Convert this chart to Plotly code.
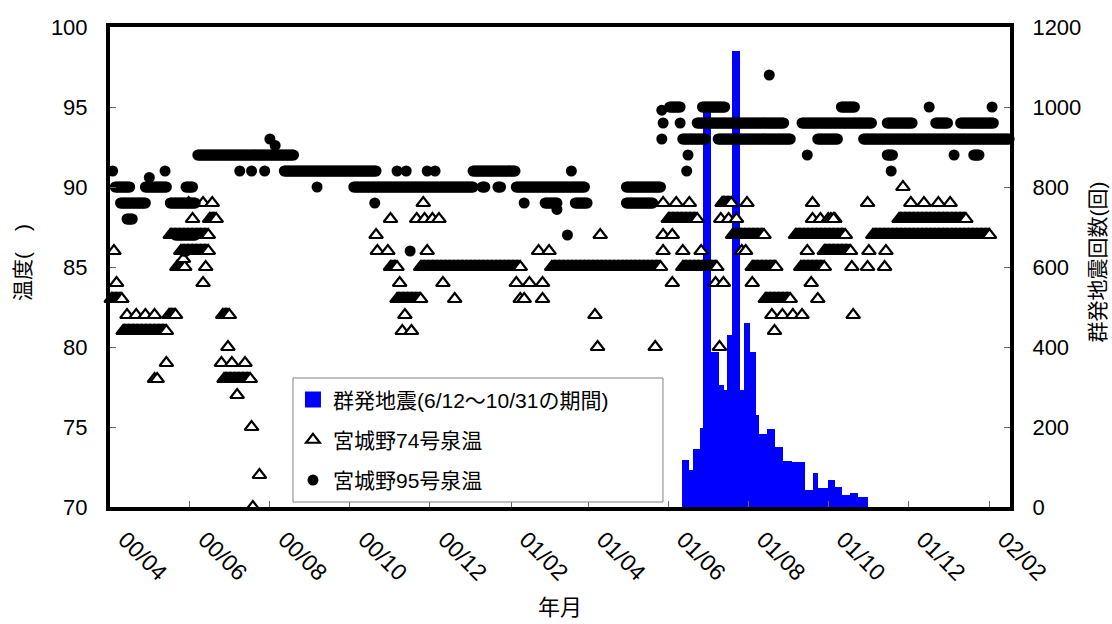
import pandas as pd
import plotly.graph_objects as go

# ---------------- data ----------------
# 宮城野95号泉温 : runs of constant daily value (start, end, value) + isolated readings
t95_run_start = ["2000-04-05","2000-04-28","2000-05-29","2000-04-09","2000-05-17","2000-04-14","2000-05-21","2000-05-27",
                 "2000-06-07","2000-08-12","2000-10-04","2001-01-03","2001-01-10","2001-01-22","2001-02-05","2001-04-30",
                 "2001-02-27","2001-03-22","2001-04-30","2001-06-02","2001-06-27","2001-06-23","2001-09-11","2001-11-15",
                 "2001-12-22","2002-01-10","2001-06-12","2001-07-09","2001-09-23","2001-10-28","2001-11-15","2002-01-20",
                 "2001-10-11"]
t95_run_end   = ["2000-04-16","2000-05-14","2000-06-03","2000-04-28","2000-06-05","2000-04-18","2000-06-05","2000-05-29",
                 "2000-08-19","2000-10-21","2001-01-03","2001-02-04","2001-01-12","2001-01-24","2001-03-29","2001-05-26",
                 "2001-03-08","2001-03-31","2001-05-20","2001-06-10","2001-07-14","2001-08-28","2001-11-03","2001-12-04",
                 "2001-12-31","2002-02-04","2001-06-29","2001-09-02","2001-10-08","2002-02-16","2001-11-19","2002-01-24",
                 "2001-10-21"]
t95_run_val   = [90, 90, 90, 89, 89, 88, 87, 86,
                 92, 91, 90, 91, 90, 90, 90, 90,
                 89, 89, 89, 95, 95, 94, 94, 94,
                 94, 94, 93, 93, 93, 93, 92, 92,
                 95]
t95_pt_date = ["2000-04-03","2000-05-01","2000-05-13","2000-07-09","2000-07-18","2000-07-28","2000-08-01","2000-08-05",
               "2000-11-06","2000-11-13","2000-11-29","2000-12-05","2000-09-06","2000-10-20","2000-11-16","2001-02-11",
               "2001-03-08","2001-03-16","2001-03-19","2001-05-27","2001-05-28","2001-06-10","2001-05-27","2001-06-16",
               "2001-06-15","2001-09-15","2001-11-18","2002-01-05","2001-08-17","2001-12-17","2002-02-03"]
t95_pt_val  = [91, 90.6, 91, 91, 91, 91, 93, 92.6,
               91, 91, 91, 91, 90, 89, 86, 89,
               88.6, 87, 91, 94.8, 94, 94, 93, 92,
               91, 92, 91, 92, 97, 95, 95]

# 宮城野74号泉温
t74_run_start = ["2000-04-02","2000-05-16","2000-06-26","2000-04-11","2000-06-27","2000-06-16","2000-05-17","2000-05-25",
                 "2000-05-22","2000-11-01","2000-11-24","2000-11-06","2001-03-04","2001-07-12","2001-06-01","2001-07-20",
                 "2001-09-06","2001-09-28","2001-06-12","2001-08-04","2001-09-10","2001-08-14","2001-11-24","2001-11-04"]
t74_run_end   = ["2000-04-10","2000-05-21","2000-07-01","2000-05-14","2000-07-17","2000-06-21","2000-06-15","2000-06-15",
                 "2000-05-28","2000-11-06","2001-02-08","2000-11-24","2001-05-26","2001-07-19","2001-06-23","2001-08-13",
                 "2001-10-14","2001-10-18","2001-07-08","2001-08-22","2001-09-28","2001-09-02","2002-01-14","2002-02-01"]
t74_run_val   = [83, 82, 82, 81, 78, 88, 87, 86,
                 85, 85, 85, 83, 85, 89, 88, 87,
                 87, 86, 85, 85, 85, 83, 88, 87]
t74_pt_date = ["2000-04-04","2000-04-06","2000-04-14","2000-04-21","2000-04-28","2000-05-05","2000-05-14","2000-06-25",
               "2000-07-03","2000-07-13","2000-05-05","2000-05-07","2000-06-30","2000-07-07","2000-07-18","2000-07-24",
               "2000-07-19","2000-05-31","2000-06-11","2000-06-18","2000-06-03","2000-05-27","2000-06-13","2000-06-11",
               "2000-11-26","2000-11-01","2000-11-21","2000-11-27","2000-12-03","2000-12-08","2000-10-21","2000-10-22",
               "2000-10-30","2000-11-29","2000-11-08","2000-12-11","2000-12-20","2000-11-12","2000-11-10","2000-11-17",
               "2001-02-22","2001-03-02","2001-02-05","2001-02-15","2001-02-25","2001-02-08","2001-02-11","2001-02-25",
               "2001-04-10","2001-04-06","2001-04-08","2001-05-22","2001-05-28","2001-06-07","2001-06-17","2001-07-31",
               "2001-09-19","2001-07-11","2001-07-17","2001-07-23","2001-09-19","2001-09-25","2001-10-01","2001-10-06",
               "2001-05-28","2001-06-04","2001-05-28","2001-06-12","2001-06-26","2001-07-27","2001-07-30","2001-09-15",
               "2001-10-19","2001-10-31","2001-11-13","2001-06-04","2001-07-07","2001-07-13","2001-08-04","2001-09-18",
               "2001-09-23","2001-08-19","2001-08-27","2001-09-04","2001-09-11","2001-10-20","2001-08-21","2001-07-10",
               "2001-11-27","2001-10-31","2001-12-03","2001-12-13","2001-12-24","2002-01-02","2001-10-03","2001-10-05",
               "2001-11-01","2001-11-14"]
t74_pt_val  = [86, 84, 82, 82, 82, 82, 79, 79,
               79, 79, 78, 78, 80, 77, 75, 72,
               70, 89, 89, 89, 88, 85.5, 85, 84,
               89, 88, 88, 88, 88, 88, 87, 86,
               86, 86, 84, 84, 83, 82, 81, 81,
               86, 86, 84, 84, 84, 83, 83, 83,
               87, 82, 80, 80, 89, 89, 89, 89,
               89, 88, 88, 88, 88, 88, 88, 88,
               87, 87, 86, 86, 86, 86, 86, 86,
               85, 85, 85, 84, 84, 84, 84, 84,
               83, 82, 82, 82, 82, 82, 81, 80,
               90, 89, 89, 89, 89, 89, 88, 88,
               86, 86]

# 群発地震 daily counts (6/12 - 10/31), constant over each listed period
eq_start = ["2001-06-12","2001-06-17","2001-06-20","2001-06-26","2001-06-28","2001-07-04","2001-07-10","2001-07-14",
            "2001-07-16","2001-07-20","2001-07-26","2001-07-29","2001-08-03","2001-08-07","2001-08-10","2001-08-16",
            "2001-08-22","2001-08-28","2001-09-04","2001-09-14","2001-09-20","2001-09-24","2001-10-01","2001-10-07",
            "2001-10-12","2001-10-18","2001-10-24"]
eq_end_all = "2001-11-01"
eq_count = [118, 92, 146, 198, 1000, 387, 305, 292,
            430, 1140, 292, 460, 387, 230, 182, 195,
            150, 115, 112, 42, 85, 47, 67, 50,
            30, 35, 25]

x_range = ["2000-04-01", "2002-02-16 16:00"]
left_ticks = [70, 75, 80, 85, 90, 95, 100]
right_ticks = [0, 200, 400, 600, 800, 1000, 1200]

# ---------------- helpers ----------------
def expand(starts, ends, vals, pts_d, pts_v):
    xs, ys = [], []
    for s, e, v in zip(starts, ends, vals):
        for d in pd.date_range(s, e, freq="D"):
            xs.append(d)
            ys.append(v)
    for d, v in zip(pts_d, pts_v):
        xs.append(pd.Timestamp(d))
        ys.append(v)
    return xs, ys

x95, y95 = expand(t95_run_start, t95_run_end, t95_run_val, t95_pt_date, t95_pt_val)
x74, y74 = expand(t74_run_start, t74_run_end, t74_run_val, t74_pt_date, t74_pt_val)

half = pd.Timedelta(hours=12)
ends = eq_start[1:] + [eq_end_all]
bx, bw = [], []
for s, e in zip(eq_start, ends):
    a = pd.Timestamp(s) - half
    b = pd.Timestamp(e) - half
    bx.append(a + (b - a) / 2)
    bw.append((b - a).total_seconds() * 1000)

FONT = "Liberation Sans, Arial, 'Noto Sans CJK JP', sans-serif"
BLUE = "#0000FF"

fig = go.Figure()
fig.add_trace(go.Bar(x=bx, y=eq_count, width=bw, marker=dict(color=BLUE, line=dict(width=0)),
                     yaxis="y", showlegend=False, hoverinfo="skip"))
# legend proxies / markers
fig.add_trace(go.Scatter(x=[None], y=[None], mode="markers", yaxis="y2",
                         marker=dict(symbol="square", size=19, color=BLUE),
                         name="群発地震(6/12～10/31の期間)", legendgroup="a"))
fig.add_trace(go.Scatter(x=x74, y=y74, mode="markers", yaxis="y2", cliponaxis=False,
                         marker=dict(symbol="triangle-up", size=12, color="white",
                                     line=dict(color="black", width=2.2)),
                         name="宮城野74号泉温", legendgroup="b"))
fig.add_trace(go.Scatter(x=x95, y=y95, mode="markers", yaxis="y2", cliponaxis=False,
                         marker=dict(symbol="circle", size=11, color="black", line=dict(width=0)),
                         name="宮城野95号泉温", legendgroup="c"))

axis_common = dict(showgrid=False, zeroline=False, showline=True, linecolor="black", linewidth=4,
                   ticks="inside", ticklen=6, tickwidth=1, tickcolor="#666666",
                   tickfont=dict(family=FONT, size=22, color="black"))

fig.update_layout(
    width=1112, height=624,
    margin=dict(l=110, r=102, t=27, b=117),
    paper_bgcolor="white", plot_bgcolor="white",
    font=dict(family=FONT, color="black"),
    xaxis=dict(type="date", range=x_range, tick0="2000-04-01", dtick="M2", tickformat="%y/%m",
               tickangle=45, mirror=True, ticklabelstandoff=6, ticklabelshift=15, **axis_common),
    yaxis=dict(range=[0, 1200], tickvals=right_ticks, side="right", ticklabelstandoff=14, **axis_common),
    yaxis2=dict(range=[70, 100], tickvals=left_ticks, side="left", overlaying="y",
                ticklabelstandoff=14, **axis_common),
    bargap=0,
    legend=dict(x=0.2033, y=0.014, xanchor="left", yanchor="bottom",
                bgcolor="rgba(0,0,0,0)", borderwidth=0,
                font=dict(family=FONT, size=21, color="black"),
                tracegroupgap=10, itemsizing="trace"),
    showlegend=True,
    shapes=[dict(type="rect", xref="paper", yref="paper", x0=0.2033, x1=0.6144, y0=0.0104, y1=0.26875,
                 fillcolor="white", line=dict(color="#808080", width=1), layer="above")],
    annotations=[
        dict(text="温度(　)", xref="paper", yref="paper", x=-0.097, y=0.51, textangle=-90,
             showarrow=False, font=dict(family=FONT, size=21), xanchor="center", yanchor="middle"),
        dict(text="群発地震回数(回)", xref="paper", yref="paper", x=1.097, y=0.51, textangle=-90,
             showarrow=False, font=dict(family=FONT, size=21), xanchor="center", yanchor="middle"),
        dict(text="年月", xref="paper", yref="paper", x=0.5, y=-0.21,
             showarrow=False, font=dict(family=FONT, size=22), xanchor="center", yanchor="middle"),
    ],
)
fig.update_xaxes(tickfont=dict(size=23))

fig.write_html("out.html")
